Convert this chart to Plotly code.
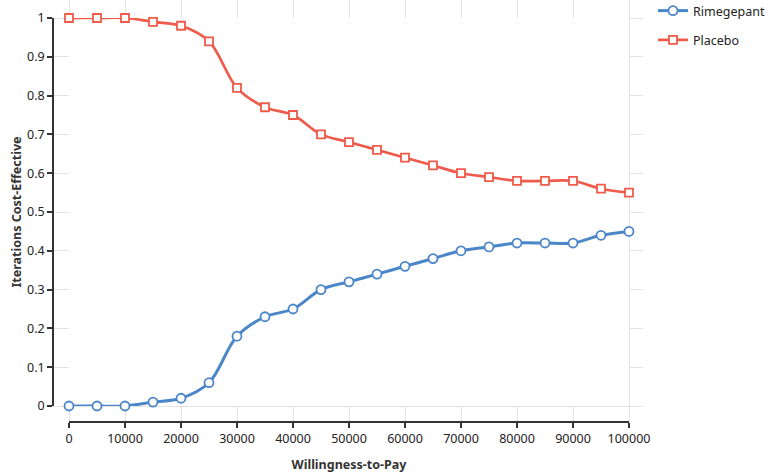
import plotly.graph_objects as go

wtp = [0, 5000, 10000, 15000, 20000, 25000, 30000, 35000, 40000, 45000, 50000,
       55000, 60000, 65000, 70000, 75000, 80000, 85000, 90000, 95000, 100000]
rimegepant = [0, 0, 0, 0.01, 0.02, 0.06, 0.18, 0.23, 0.25, 0.30, 0.32,
              0.34, 0.36, 0.38, 0.40, 0.41, 0.42, 0.42, 0.42, 0.44, 0.45]
placebo = [1, 1, 1, 0.99, 0.98, 0.94, 0.82, 0.77, 0.75, 0.70, 0.68,
           0.66, 0.64, 0.62, 0.60, 0.59, 0.58, 0.58, 0.58, 0.56, 0.55]
x_ticks = list(range(0, 100001, 10000))
y_ticks = [i / 10 for i in range(11)]
y_tick_labels = ["0", "0.1", "0.2", "0.3", "0.4", "0.5", "0.6", "0.7", "0.8", "0.9", "1"]

W, H = 767, 473
BLUE = "#4a86c8"
RED = "#ef5b4b"
FONT = "Noto Sans"

fig = go.Figure()
# invisible trace to create grid subplot
fig.add_trace(go.Scatter(x=[0], y=[0], xaxis="x", yaxis="y", mode="markers",
                         marker=dict(opacity=0), showlegend=False, hoverinfo="skip"))
fig.add_trace(go.Scatter(
    x=wtp, y=rimegepant, name="Rimegepant", xaxis="x2", yaxis="y2",
    mode="lines+markers", line=dict(color=BLUE, width=3, shape="spline", smoothing=1.0),
    marker=dict(symbol="circle", size=9, color="white", line=dict(color=BLUE, width=1.8)),
    cliponaxis=False, legendgroup="a"))
fig.add_trace(go.Scatter(
    x=wtp, y=placebo, name="Placebo", xaxis="x2", yaxis="y2",
    mode="lines+markers", line=dict(color=RED, width=2.7, shape="spline", smoothing=1.0),
    marker=dict(symbol="square", size=8, color="white", line=dict(color=RED, width=1.8)),
    cliponaxis=False, legendgroup="b"))

# pixel geometry
gx0, gx1 = 53, 643     # grid area horizontal
gy0, gy1 = 0, 422      # grid area vertical (from top)
ax0, ax1 = 69, 629     # x data 0..100000
ay0, ay1 = 18, 406     # y data 1..0
xppu = (ax1 - ax0) / 100000
yppu = (ay1 - ay0) / 1.0

fig.update_layout(
    width=W, height=H,
    margin=dict(l=0, r=0, t=0, b=0, autoexpand=False),
    paper_bgcolor="white", plot_bgcolor="white",
    font=dict(family=FONT, size=12.5, color="#222"),
    xaxis=dict(domain=[gx0 / W, gx1 / W],
               range=[-(ax0 - gx0) / xppu, 100000 + (gx1 - ax1) / xppu],
               tickvals=x_ticks, showticklabels=False, showgrid=True,
               gridcolor="#e3e3e3", gridwidth=1, zeroline=False, showline=False,
               ticks="", anchor="y", automargin=False),
    yaxis=dict(domain=[1 - gy1 / H, 1 - gy0 / H],
               range=[-(gy1 - ay1) / yppu, 1 + (ay0 - gy0) / yppu],
               tickvals=y_ticks, showticklabels=False, showgrid=True,
               gridcolor="#e3e3e3", gridwidth=1, zeroline=False, showline=False,
               ticks="", anchor="x", automargin=False),
    xaxis2=dict(domain=[ax0 / W, ax1 / W], range=[0, 100000],
                anchor="free", position=1 - gy1 / H, automargin=False,
                tickvals=x_ticks, ticktext=[str(v) for v in x_ticks],
                showgrid=False, zeroline=False, showline=True, linecolor="#333",
                linewidth=1.5, ticks="outside", ticklen=5, tickwidth=1.5,
                tickcolor="#333", tickfont=dict(size=12.5, color="#222"),
                title=dict(text="<b>Willingness-to-Pay</b>",
                           font=dict(size=12.5, color="#333"), standoff=16)),
    yaxis2=dict(domain=[1 - ay1 / H, 1 - ay0 / H], range=[0, 1],
                anchor="free", position=gx0 / W, automargin=False,
                tickvals=y_ticks, ticktext=y_tick_labels,
                showgrid=False, zeroline=False, showline=True, linecolor="#333",
                linewidth=1.5, ticks="outside", ticklen=5, tickwidth=1.5,
                tickcolor="#333", tickfont=dict(size=12.5, color="#222"),
                title=dict(text="<b>Iterations Cost-Effective</b>",
                           font=dict(size=12.5, color="#333"), standoff=2)),
    legend=dict(x=653 / W, y=1 + 4 / H, xanchor="left", yanchor="top",
                traceorder="grouped", tracegroupgap=10,
                font=dict(size=12.5, color="#222"), bgcolor="rgba(0,0,0,0)"),
    showlegend=True,
)

fig.write_html("out.html")
